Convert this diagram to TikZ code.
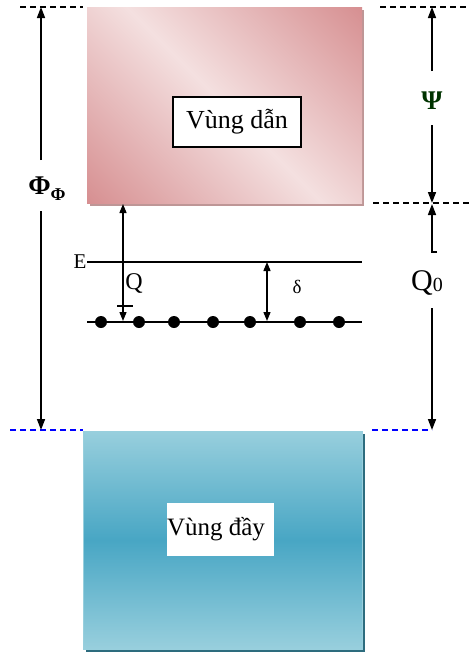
\documentclass[tikz,border=0pt]{standalone}
\usepackage{fontspec}
\setmainfont{Liberation Serif}
\usetikzlibrary{arrows.meta}
\definecolor{pinkD}{RGB}{214,142,144}
\definecolor{pinkL}{RGB}{244,224,224}
\definecolor{pinkS}{RGB}{190,150,150}
\definecolor{blueL}{RGB}{152,207,221}
\definecolor{blueD}{RGB}{72,166,196}
\definecolor{blueS}{RGB}{45,108,126}
\pgfdeclarehorizontalshading{pinkshade}{100bp}{color(0bp)=(pinkD); color(14bp)=(pinkD); color(50bp)=(pinkL); color(86bp)=(pinkD); color(100bp)=(pinkD)}
\pgfdeclareverticalshading{blueshade}{100bp}{color(0bp)=(blueL); color(25bp)=(blueL); color(50bp)=(blueD); color(75bp)=(blueL); color(100bp)=(blueL)}
\begin{document}
\begin{tikzpicture}[x=1pt,y=-1pt,
  dimarrow/.style={-{Triangle[length=11pt,width=8pt]}, line width=1.6pt},
  thinarrow/.style={line width=1.3pt},
  dblarrow/.style={arrows={Triangle[length=9pt,width=7pt]-Triangle[length=9pt,width=7pt]}, line width=1.3pt},
  guide/.style={dashed, dash pattern=on 6pt off 4pt, line width=1.2pt},
  dot/.style={circle, fill=black, inner sep=0pt, minimum size=12pt}]
\useasboundingbox (0,0) rectangle (469,654);
\fill[white] (0,0) rectangle (469,654);

% conduction band
\fill[pinkS] (90,10) rectangle (364,206);
\node[shading=pinkshade, shading angle=45, minimum width=275, minimum height=196, anchor=north west, inner sep=0pt, outer sep=0pt] (cb) at (87,7) {};
\node[draw, line width=1.1pt, fill=white, minimum width=128, minimum height=50, font=\fontsize{26}{28}\selectfont] (cbl) at (237,122) {Vùng dẫn};

% valence band
\fill[blueS] (86,434) rectangle (365,652);
\node[shading=blueshade, draw=blueL, line width=1pt, minimum width=279, minimum height=218, anchor=north west, inner sep=0pt, outer sep=0pt] (vb) at (83,431) {};
\node[fill=white, minimum width=107, minimum height=53, inner sep=0pt] (vblbox) at (220.5,529.5) {};
\node[anchor=west, inner sep=0pt, font=\fontsize{25}{27}\selectfont] (vbl) at (vblbox.west) {Vùng đầy};

% guide lines
\coordinate (gtl1) at (20,7); \coordinate (gtl2) at (83,7);
\coordinate (gtr1) at (380,7); \coordinate (gtr2) at (469,7);
\coordinate (gmr1) at (373,203); \coordinate (gmr2) at (469,203);
\coordinate (gbl1) at (10,430); \coordinate (gbl2) at (83,430);
\coordinate (gbr1) at (372,430); \coordinate (gbr2) at (432,430);
\draw[guide] (gtl1) -- (gtl2);
\draw[guide] (gtr1) -- (gtr2);
\draw[guide] (gmr1) -- (gmr2);
\draw[guide, blue] (gbl1) -- (gbl2);
\draw[guide, blue] (gbr1) -- (gbr2);

% Phi_Phi
\coordinate (phiT) at (41,7); \coordinate (phiA) at (41,160);
\coordinate (phiB) at (41,211); \coordinate (phiBot) at (41,430);
\node[font=\fontsize{27}{29}\selectfont\bfseries, inner sep=0pt] (phi) at (47,189) {Φ\raisebox{-6pt}{\fontsize{18}{20}\selectfont Φ}};
\draw[dimarrow] (phiA) -- (phiT);
\draw[dimarrow] (phiB) -- (phiBot);

% Psi
\coordinate (psT) at (432,7); \coordinate (psA) at (432,71);
\coordinate (psB) at (432,125); \coordinate (psBot) at (432,203);
\node[font=\fontsize{27}{29}\selectfont\bfseries, text=black!80!green, inner sep=0pt] (psi) at (432,101) {Ψ};
\draw[dimarrow] (psA) -- (psT);
\draw[dimarrow] (psB) -- (psBot);

% Q0
\coordinate (q0T) at (432,204); \coordinate (q0A) at (432,252);
\coordinate (q0Ak) at (437,252);
\coordinate (q0B) at (432,308); \coordinate (q0Bot) at (432,430);
\node[font=\fontsize{30}{32}\selectfont, inner sep=0pt] (q0) at (427,283) {Q\raisebox{-1pt}{\fontsize{20}{22}\selectfont 0}};
\draw[dimarrow] (q0Ak) -- (q0A) -- (q0T);
\draw[dimarrow] (q0B) -- (q0Bot);

% energy level E
\coordinate (eL) at (87,262); \coordinate (eR) at (362,262);
\node[font=\fontsize{21}{23}\selectfont, inner sep=0pt] (elab) at (80,262) {E};
\draw[thinarrow] (eL) -- (eR);

% dotted level
\coordinate (dL) at (87,322); \coordinate (dR) at (362,322);
\draw[thinarrow] (dL) -- (dR);
\foreach \x [count=\i] in {101,139,174,213,250,300,339}
  \node[dot] (d\i) at (\x,322) {};

% Q arrow
\coordinate (qT) at (123,204); \coordinate (qB) at (123,321);
\draw[dblarrow] (qT) -- (qB);
\coordinate (qk1) at (117,306); \coordinate (qk2) at (133,306);
\draw[thinarrow] (qk1) -- (qk2);
\node[font=\fontsize{24}{26}\selectfont, inner sep=0pt] (q) at (134,283) {Q};

% delta arrow
\coordinate (dtT) at (267,262); \coordinate (dtB) at (267,321);
\draw[dblarrow] (dtT) -- (dtB);
\node[font=\fontsize{19}{21}\selectfont, inner sep=0pt] (delta) at (297,287) {δ};
\end{tikzpicture}
\end{document}
